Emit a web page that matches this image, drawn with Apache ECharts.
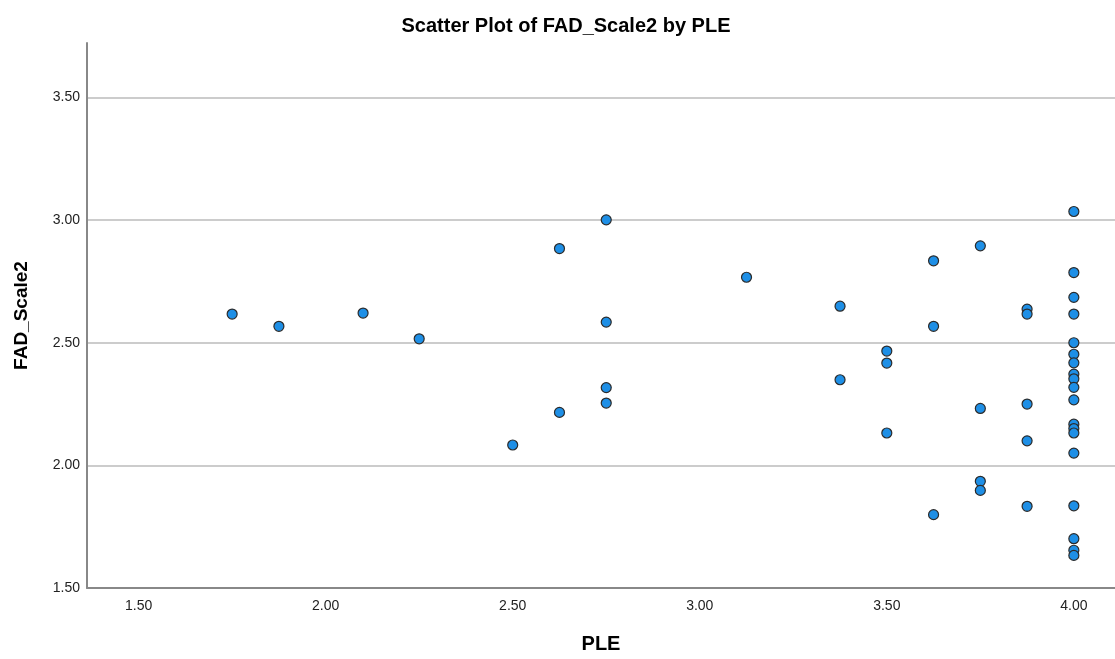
<!DOCTYPE html>
<html>
<head>
<meta charset="utf-8">
<script src="https://cdn.jsdelivr.net/npm/echarts@6/dist/echarts.min.js"></script>
<style>
html,body{margin:0;padding:0;background:#fff;}
#chart{width:1115px;height:659px;}
</style>
</head>
<body>
<div id="chart"></div>
<script>
const title = "Scatter Plot of FAD_Scale2 by PLE";
const xName = "PLE";
const yName = "FAD_Scale2";
const xTicks = [1.5, 2.0, 2.5, 3.0, 3.5, 4.0];
const yTicks = [1.5, 2.0, 2.5, 3.0, 3.5];
const ple = [
  1.75, 1.875, 2.10, 2.25, 2.50,
  2.625, 2.625,
  2.75, 2.75, 2.75, 2.75,
  3.125,
  3.375, 3.375,
  3.50, 3.50, 3.50,
  3.625, 3.625, 3.625,
  3.75, 3.75, 3.75, 3.75,
  3.875, 3.875, 3.875, 3.875, 3.875,
  4.0, 4.0, 4.0, 4.0, 4.0, 4.0, 4.0, 4.0, 4.0, 4.0,
  4.0, 4.0, 4.0, 4.0, 4.0, 4.0, 4.0, 4.0, 4.0
];
const fad = [
  2.617, 2.567, 2.621, 2.516, 2.083,
  2.884, 2.216,
  3.001, 2.584, 2.317, 2.254,
  2.767,
  2.649, 2.349,
  2.466, 2.417, 2.132,
  2.834, 2.567, 1.799,
  2.895, 2.232, 1.935, 1.898,
  2.637, 2.617, 2.250, 2.100, 1.833,
  3.035, 2.786, 2.685, 2.617, 2.500, 2.453, 2.418, 2.372, 2.353, 2.318,
  2.267, 2.168, 2.150, 2.132, 2.050, 1.835, 1.701, 1.654, 1.633
];
const points = ple.map((x, i) => [x, fad[i]]);

const font = 'Liberation Sans, Arial, sans-serif';
const chart = echarts.init(document.getElementById('chart'), null, {renderer: 'canvas'});
chart.setOption({
  animation: false,
  backgroundColor: '#ffffff',
  title: {
    text: title,
    left: 561, top: 11, textAlign: 'center',
    textStyle: {fontFamily: font, fontSize: 20, fontWeight: 'bold', color: '#000'}
  },
  grid: {left: 87, right: 0, top: 43, bottom: 66, containLabel: false},
  xAxis: {
    type: 'value',
    min: 1.362, max: 4.11,
    name: xName,
    nameLocation: 'middle',
    nameGap: 46,
    nameTextStyle: {fontFamily: font, fontSize: 20, fontWeight: 'bold', color: '#000'},
    axisLine: {show: true, lineStyle: {color: '#888888', width: 2}},
    axisTick: {show: false},
    splitLine: {show: false},
    axisLabel: {
      customValues: xTicks,
      formatter: v => v.toFixed(2),
      margin: 11,
      fontFamily: font, fontSize: 14, color: '#222'
    }
  },
  yAxis: {
    type: 'value',
    min: 1.5, max: 3.722,
    name: yName,
    nameLocation: 'middle',
    nameGap: 56,
    nameTextStyle: {fontFamily: font, fontSize: 19, fontWeight: 'bold', color: '#000'},
    axisLine: {show: true, lineStyle: {color: '#888888', width: 2}},
    axisTick: {show: true, customValues: yTicks, length: 0},
    splitLine: {show: true, lineStyle: {color: '#cccccc', width: 2}},
    axisLabel: {
      customValues: yTicks,
      formatter: v => v.toFixed(2),
      margin: 7,
      fontFamily: font, fontSize: 14, color: '#222'
    }
  },
  series: [{
    type: 'scatter',
    data: points,
    symbol: 'circle',
    symbolSize: 10,
    itemStyle: {color: '#1e8fe6', borderColor: '#2b2b2b', borderWidth: 1.2, opacity: 1}
  }]
});
</script>
</body>
</html>
